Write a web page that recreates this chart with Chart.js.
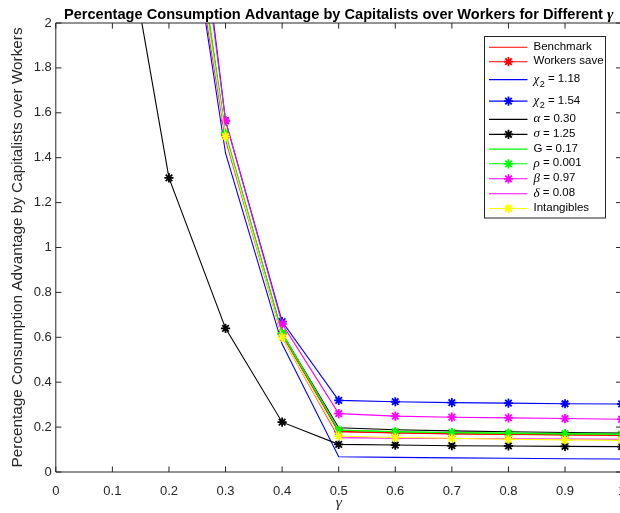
<!DOCTYPE html>
<html>
<head>
<meta charset="utf-8">
<script src="https://cdn.jsdelivr.net/npm/chart.js@4.4.1/dist/chart.umd.min.js"></script>
<style>
html, body { margin: 0; padding: 0; overflow: hidden; background: #fff; }
#wrap { width: 640px; height: 513px; }
</style>
</head>
<body>
<div id="wrap"><canvas id="chart" width="640" height="513"></canvas></div>
<script>
// gamma values on the x axis
const gammas = [0.1, 0.2, 0.3, 0.4, 0.5, 0.6, 0.7, 0.8, 0.9, 1.0];
const xTicks = [0, 0.1, 0.2, 0.3, 0.4, 0.5, 0.6, 0.7, 0.8, 0.9, 1];
const yTicks = [0, 0.2, 0.4, 0.6, 0.8, 1, 1.2, 1.4, 1.6, 1.8, 2];

const seriesLabels = ['Benchmark', 'Workers save', 'χ2 = 1.18', 'χ2 = 1.54', 'α = 0.30', 'σ = 1.25',
    'G = 0.17', 'ρ = 0.001', 'β = 0.97', 'δ = 0.08', 'Intangibles'];

// values (points above 2 are off the top of the plot)
const benchmark   = [7.0, 3.20, 1.490, 0.610, 0.180, 0.174, 0.170, 0.167, 0.165, 0.163];
const workersSave = [7.1, 3.22, 1.500, 0.615, 0.181, 0.175, 0.171, 0.168, 0.166, 0.164];
const chi118      = [6.2, 3.08, 1.420, 0.570, 0.068, 0.065, 0.063, 0.061, 0.059, 0.058];
const chi154      = [8.0, 3.64, 1.565, 0.670, 0.319, 0.313, 0.309, 0.307, 0.304, 0.303];
const alpha030    = [7.1, 3.22, 1.500, 0.618, 0.197, 0.188, 0.183, 0.179, 0.176, 0.173];
const sigma125    = [2.75, 1.31, 0.640, 0.222, 0.123, 0.120, 0.117, 0.116, 0.114, 0.113];
const g017        = [7.1, 3.22, 1.500, 0.616, 0.186, 0.179, 0.175, 0.172, 0.170, 0.168];
const rho0001     = [7.2, 3.25, 1.510, 0.620, 0.187, 0.180, 0.176, 0.173, 0.171, 0.169];
const beta097     = [7.8, 3.54, 1.565, 0.660, 0.260, 0.249, 0.244, 0.241, 0.238, 0.235];
const delta008    = [6.6, 3.06, 1.480, 0.600, 0.153, 0.150, 0.149, 0.148, 0.147, 0.146];
const intangibles = [6.8, 3.13, 1.494, 0.600, 0.160, 0.154, 0.150, 0.146, 0.143, 0.141];

const allSeries = [benchmark, workersSave, chi118, chi154, alpha030, sigma125, g017, rho0001, beta097, delta008, intangibles];
const colors = ['#ff0000', '#ff0000', '#0000ff', '#0000ff', '#000000', '#000000', '#00ff00', '#00ff00', '#ff00ff', '#ff00ff', '#ffff00'];
const hasMarker = [false, true, false, true, false, true, false, true, true, false, true];

const axisColor = '#262626';
const sans = '"Liberation Sans", Arial, sans-serif';
const serif = '"Liberation Serif", "Times New Roman", serif';

const datasets = allSeries.map((vals, i) => ({
    label: seriesLabels[i],
    data: gammas.map((g, j) => ({ x: g, y: vals[j] })),
    borderColor: colors[i],
    backgroundColor: colors[i],
    borderWidth: 1.1,
    pointStyle: 'star',
    pointRadius: hasMarker[i] ? 4.6 : 0,
    pointBorderWidth: 1.8,
    pointBorderColor: colors[i],
    tension: 0,
    fill: false,
    order: allSeries.length - i // later series on top, like MATLAB
}));

// draw text where greek letters use a serif face and a digit after greek is a subscript
function drawRich(ctx, text, x, y) {
    let prevGreek = false;
    let run = '';
    const flush = () => {
        if (!run) return;
        ctx.font = '11.5px ' + sans;
        ctx.fillText(run, x, y);
        x += ctx.measureText(run).width;
        run = '';
    };
    for (const ch of text) {
        const greek = /[\u0370-\u03ff]/.test(ch);
        if (greek) {
            flush();
            ctx.font = 'italic 13px ' + serif;
            ctx.fillText(ch, x, y);
            x += ctx.measureText(ch).width;
        } else if (prevGreek && /\d/.test(ch)) {
            flush();
            ctx.font = '9px ' + sans;
            ctx.fillText(ch, x + 0.5, y + 5);
            x += ctx.measureText(ch).width + 0.5;
        } else {
            run += ch;
        }
        prevGreek = greek;
    }
    flush();
}

const matlabFrame = {
    id: 'matlabFrame',
    afterDraw(chart) {
        const ctx = chart.ctx;
        const a = chart.chartArea;
        const xs = chart.scales.x, ys = chart.scales.y;
        ctx.save();
        // axes box and inward ticks
        ctx.strokeStyle = axisColor;
        ctx.lineWidth = 1;
        ctx.beginPath();
        ctx.rect(a.left, a.top, a.right - a.left, a.bottom - a.top);
        const tl = 5.6;
        xTicks.forEach(v => {
            const px = xs.getPixelForValue(v);
            ctx.moveTo(px, a.bottom); ctx.lineTo(px, a.bottom - tl);
            ctx.moveTo(px, a.top); ctx.lineTo(px, a.top + tl);
        });
        yTicks.forEach(v => {
            const py = ys.getPixelForValue(v);
            ctx.moveTo(a.left, py); ctx.lineTo(a.left + tl, py);
            ctx.moveTo(a.right, py); ctx.lineTo(a.right - tl, py);
        });
        ctx.stroke();

        // title
        const cx = (a.left + a.right) / 2;
        const main = 'Percentage Consumption Advantage by Capitalists over Workers for Different ';
        ctx.fillStyle = '#000';
        ctx.textBaseline = 'alphabetic';
        ctx.textAlign = 'left';
        ctx.font = 'bold 14.6px ' + sans;
        const w1 = ctx.measureText(main).width;
        ctx.font = 'bold italic 15.5px ' + serif;
        const w2 = ctx.measureText('γ').width;
        let tx = cx - (w1 + w2) / 2;
        ctx.font = 'bold 14.6px ' + sans;
        ctx.fillText(main, tx, 18.5);
        ctx.font = 'bold italic 15.5px ' + serif;
        ctx.fillText('γ', tx + w1, 18.5);

        // axis titles
        ctx.fillStyle = axisColor;
        ctx.textAlign = 'center';
        ctx.font = 'italic 15.5px ' + serif;
        ctx.fillText('γ', cx, 507);
        ctx.save();
        ctx.translate(22, (a.top + a.bottom) / 2);
        ctx.rotate(-Math.PI / 2);
        ctx.font = '15.3px ' + sans;
        ctx.fillText('Percentage Consumption Advantage by Capitalists over Workers', 0, 0);
        ctx.restore();

        // legend
        const bx = 484.5, by = 36.5, bw = 121, bh = 181.5;
        ctx.fillStyle = '#fff';
        ctx.fillRect(bx, by, bw, bh);
        ctx.strokeStyle = axisColor;
        ctx.lineWidth = 1;
        ctx.strokeRect(bx, by, bw, bh);
        let rowY = 47.3;
        let prevH = null;
        chart.data.datasets.forEach((ds, i) => {
            const label = ds.label;
            const h = /\u03c7\d/.test(label) ? 21.5 : (/[\u0370-\u03ff]/.test(label) ? 15 : 14.4);
            if (prevH !== null) rowY += (prevH + h) / 2;
            prevH = h;
            ctx.strokeStyle = ds.borderColor;
            ctx.lineWidth = 1.1;
            ctx.beginPath();
            ctx.moveTo(489, rowY); ctx.lineTo(527.5, rowY);
            ctx.stroke();
            if (ds.pointRadius > 0) {
                ctx.lineWidth = ds.pointBorderWidth;
                Chart.helpers.drawPoint(ctx, { pointStyle: 'star', radius: ds.pointRadius, borderWidth: ds.pointBorderWidth, rotation: 0 }, 508.5, rowY);
            }
            ctx.fillStyle = '#000';
            ctx.textAlign = 'left';
            ctx.textBaseline = 'middle';
            drawRich(ctx, label, 533.5, rowY - 0.5);
        });
        ctx.restore();
    }
};

new Chart(document.getElementById('chart'), {
    type: 'line',
    data: { datasets: datasets },
    options: {
        responsive: false,
        animation: false,
        devicePixelRatio: 1,
        layout: { padding: { top: 23, right: 18.4, bottom: 0, left: 0 } },
        plugins: {
            legend: { display: false },
            title: { display: false },
            tooltip: { enabled: false }
        },
        scales: {
            x: {
                type: 'linear',
                min: 0,
                max: 1,
                afterBuildTicks: s => { s.ticks = xTicks.map(v => ({ value: v })); },
                afterFit: s => { s.height = 41; },
                ticks: {
                    autoSkip: false,
                    maxRotation: 0,
                    padding: 11.5,
                    color: axisColor,
                    font: { family: sans, size: 13 },
                    callback: v => String(+v.toFixed(1))
                },
                grid: { display: false, drawTicks: false },
                border: { display: false }
            },
            y: {
                type: 'linear',
                min: 0,
                max: 2,
                afterBuildTicks: s => { s.ticks = yTicks.map(v => ({ value: v })); },
                afterFit: s => { s.width = 55.8; },
                ticks: {
                    padding: 4,
                    color: axisColor,
                    font: { family: sans, size: 13 },
                    callback: v => String(+v.toFixed(1))
                },
                grid: { display: false, drawTicks: false },
                border: { display: false }
            }
        }
    },
    plugins: [matlabFrame]
});
</script>
</body>
</html>
